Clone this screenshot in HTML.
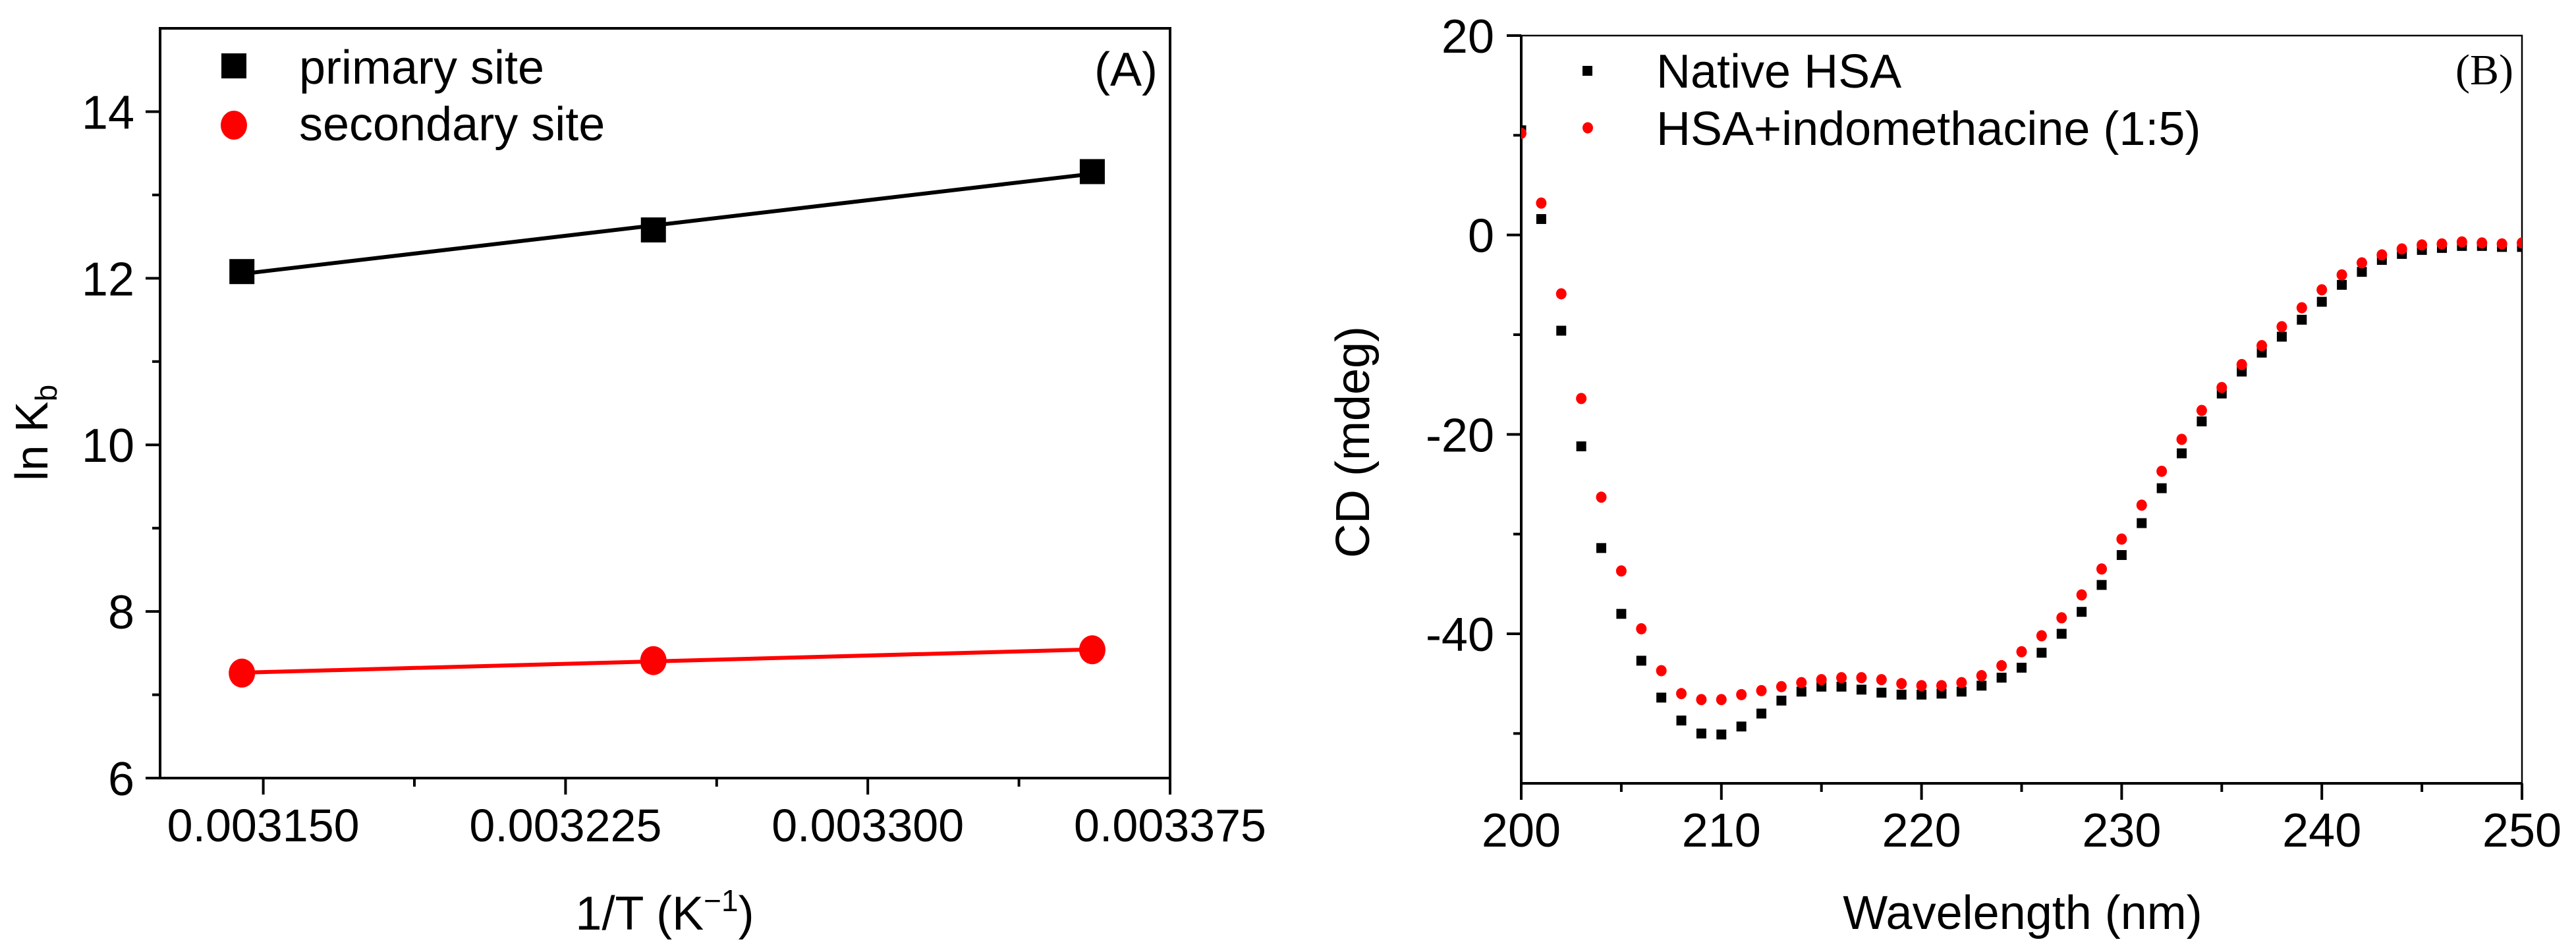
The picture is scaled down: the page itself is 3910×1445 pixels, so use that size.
<!DOCTYPE html>
<html><head><meta charset="utf-8">
<style>
html,body{margin:0;padding:0;background:#fff;}
svg{display:block;font-family:"Liberation Sans",sans-serif;}
</style></head>
<body>
<svg id="fig" width="3910" height="1445" viewBox="0 0 3910 1445" xmlns="http://www.w3.org/2000/svg">
<rect width="3910" height="1445" fill="#fff"/>
<defs>
<clipPath id="clipB"><rect x="2309" y="54" width="1519" height="1135"/></clipPath>
</defs>
<g id="panelA"></g>
<g id="panelB"></g>
</svg>
<script>
// Panel A data
const aX = [0.0031447, 0.0032468, 0.0033557];
const aPrimary = [12.08, 12.58, 13.28];
const aSecondary = [7.26, 7.41, 7.54];
const aXTicks = [0.003150, 0.003225, 0.003300, 0.003375];
const aXTickLabels = ["0.003150", "0.003225", "0.003300", "0.003375"];
const aYTicks = [6, 8, 10, 12, 14];
// Panel B data
const bWave = [200,201,202,203,204,205,206,207,208,209,210,211,212,213,214,215,216,217,218,219,220,221,222,223,224,225,226,227,228,229,230,231,232,233,234,235,236,237,238,239,240,241,242,243,244,245,246,247,248,249,250];
const bNative = [10.5,1.6,-9.6,-21.2,-31.4,-38.0,-42.7,-46.4,-48.7,-50.0,-50.1,-49.3,-48.0,-46.7,-45.8,-45.3,-45.3,-45.6,-45.9,-46.1,-46.1,-46.0,-45.8,-45.2,-44.4,-43.4,-41.9,-40.0,-37.8,-35.1,-32.1,-28.9,-25.4,-21.9,-18.7,-15.9,-13.7,-11.8,-10.2,-8.5,-6.7,-5.0,-3.7,-2.5,-1.9,-1.5,-1.3,-1.1,-1.1,-1.2,-1.2];
const bIndo = [10.2,3.2,-5.9,-16.4,-26.3,-33.7,-39.5,-43.7,-46.0,-46.6,-46.6,-46.1,-45.7,-45.3,-44.9,-44.6,-44.4,-44.4,-44.6,-45.0,-45.2,-45.2,-44.9,-44.2,-43.2,-41.8,-40.2,-38.4,-36.1,-33.5,-30.5,-27.1,-23.7,-20.5,-17.6,-15.3,-13.0,-11.1,-9.2,-7.3,-5.5,-4.0,-2.8,-2.0,-1.4,-1.0,-0.9,-0.7,-0.8,-0.9,-0.8];
const bXTicks = [200,210,220,230,240,250];
const bYTicks = [20,0,-20,-40];

const NS = "http://www.w3.org/2000/svg";
function mk(tag, attrs, parent){const e=document.createElementNS(NS,tag);for(const k in attrs)e.setAttribute(k,attrs[k]);parent.appendChild(e);return e;}

// ---------- Panel A ----------
const A = document.getElementById('panelA');
const aL=243,aR=1776,aT=43,aB=1181, aXmin=0.0031244, aXmax=0.003375, aYmin=6, aYmax=15;
const axA = v => aL + (v-aXmin)/(aXmax-aXmin)*(aR-aL);
const ayA = v => aB - (v-aYmin)/(aYmax-aYmin)*(aB-aT);
let e = mk('rect',{x:aL,y:aT,width:aR-aL,height:aB-aT,fill:'none',stroke:'#000','stroke-width':4},A);


aXTicks.forEach((t,i)=>{
  const x=axA(t);
  let l=mk('line',{x1:x,y1:aB,x2:x,y2:aB+25,stroke:'#000','stroke-width':4},A);
  
  
  if(i<aXTicks.length-1){const xm=axA(t+0.0000375);
    let m=mk('line',{x1:xm,y1:aB,x2:xm,y2:aB+13,stroke:'#000','stroke-width':4},A);
    
    }
  let tx=mk('text',{x:x,y:1277,'font-size':70,'text-anchor':'middle'},A);tx.textContent=aXTickLabels[i];
  
  
});
aYTicks.forEach(t=>{
  const y=ayA(t);
  let l=mk('line',{x1:aL-22,y1:y,x2:aL,y2:y,stroke:'#000','stroke-width':4},A);
  
  
  if(t<14){const ym=ayA(t+1);
    let m=mk('line',{x1:aL-12,y1:ym,x2:aL,y2:ym,stroke:'#000','stroke-width':4},A);
    
    }
  let tx=mk('text',{x:204,y:y+26,'font-size':72,'text-anchor':'end'},A);tx.textContent=String(t);
  
  
});
{const ym=ayA(15);}
// fit lines
function fit(xs,ys){const n=xs.length;let mx=0,my=0;for(let i=0;i<n;i++){mx+=xs[i];my+=ys[i];}mx/=n;my/=n;let sxy=0,sxx=0;for(let i=0;i<n;i++){sxy+=(xs[i]-mx)*(ys[i]-my);sxx+=(xs[i]-mx)**2;}const b=sxy/sxx;return [b,my-b*mx];}
[[aPrimary,'#000','fit-line-primary'],[aSecondary,'#f00','fit-line-secondary']].forEach(([ys,c,nm])=>{
  const [b,a0]=fit(aX,ys);const x0=aX[0],x1=aX[aX.length-1];
  let l=mk('line',{x1:axA(x0),y1:ayA(a0+b*x0),x2:axA(x1),y2:ayA(a0+b*x1),stroke:c,'stroke-width':6},A);
  
  
});
aX.forEach((x,i)=>{
  let s=mk('rect',{x:axA(x)-19,y:ayA(aPrimary[i])-19,width:38,height:38,fill:'#000'},A);
  
  
  let c=mk('ellipse',{cx:axA(x),cy:ayA(aSecondary[i]),rx:20,ry:22,fill:'#f00'},A);
  
  
});
// legend A
e=mk('rect',{x:336,y:81,width:38,height:38,fill:'#000'},A);


e=mk('text',{x:454,y:127,'font-size':72},A);e.textContent='primary site';


e=mk('ellipse',{cx:355,cy:190,rx:20,ry:22,fill:'#f00'},A);


e=mk('text',{x:454,y:213,'font-size':72},A);e.textContent='secondary site';


e=mk('text',{x:1757,y:130,'font-size':72,'text-anchor':'end'},A);e.textContent='(A)';


e=mk('text',{transform:'translate(72,730) rotate(-90)','font-size':70},A);
e.innerHTML='ln K<tspan font-size="46" dy="14">b</tspan>';


e=mk('text',{x:1009,y:1411,'font-size':72,'text-anchor':'middle'},A);
e.innerHTML='1/T (K<tspan font-size="46" dy="-28">−1</tspan><tspan dy="28">)</tspan>';



// ---------- Panel B ----------
const B = document.getElementById('panelB');
const bL=2309,bR=3828,bT=54,bB=1189,bXmin=200,bXmax=250,bYmin=-55,bYmax=20;
const axB=v=>bL+(v-bXmin)/(bXmax-bXmin)*(bR-bL);
const ayB=v=>bB-(v-bYmin)/(bYmax-bYmin)*(bB-bT);
e=mk('rect',{x:bL,y:bT,width:bR-bL,height:bB-bT,fill:'none',stroke:'#000','stroke-width':2.5},B);


e=mk('line',{x1:bL,y1:bT,x2:bL,y2:bB,stroke:'#000','stroke-width':4},B);


e=mk('line',{x1:bL,y1:bB,x2:bR,y2:bB,stroke:'#000','stroke-width':4},B);


bXTicks.forEach((t,i)=>{
  const x=axB(t);
  let l=mk('line',{x1:x,y1:bB,x2:x,y2:bB+25,stroke:'#000','stroke-width':4},B);
  
  
  if(i<bXTicks.length-1){const xm=axB(t+5);
    let m=mk('line',{x1:xm,y1:bB,x2:xm,y2:bB+13,stroke:'#000','stroke-width':4},B);
    
    }
  let tx=mk('text',{x:x,y:1285,'font-size':72,'text-anchor':'middle'},B);tx.textContent=String(t);
  
  
});
bYTicks.forEach(t=>{
  const y=ayB(t);
  let l=mk('line',{x1:bL-22,y1:y,x2:bL,y2:y,stroke:'#000','stroke-width':4},B);
  
  
  const ym=ayB(t-10);
  let m=mk('line',{x1:bL-12,y1:ym,x2:bL,y2:ym,stroke:'#000','stroke-width':4},B);
  
  
  let tx=mk('text',{x:2268,y:y+26,'font-size':72,'text-anchor':'end'},B);tx.textContent=String(t);
  
  
});
const gB=mk('g',{'clip-path':'url(#clipB)'},B);


bWave.forEach((w,i)=>{
  let s=mk('rect',{x:axB(w)-7.5,y:ayB(bNative[i])-7.5,width:15,height:15,fill:'#000'},gB);
  
  
});
bWave.forEach((w,i)=>{
  let c=mk('ellipse',{cx:axB(w),cy:ayB(bIndo[i]),rx:8,ry:8.5,fill:'#f00'},gB);
  
  
});
e=mk('rect',{x:2402,y:100,width:15,height:15,fill:'#000'},B);


e=mk('text',{x:2514,y:133,'font-size':72},B);e.textContent='Native HSA';


e=mk('ellipse',{cx:2410,cy:194,rx:8,ry:8.5,fill:'#f00'},B);


e=mk('text',{x:2514,y:220,'font-size':72},B);e.textContent='HSA+indomethacine (1:5)';


e=mk('text',{x:3815,y:128,'font-size':66,'text-anchor':'end','font-family':'Liberation Serif, serif'},B);e.textContent='(B)';


e=mk('text',{transform:'translate(2078,671) rotate(-90)','font-size':72,'text-anchor':'middle'},B);e.textContent='CD (mdeg)';


e=mk('text',{x:3070,y:1410,'font-size':72,'text-anchor':'middle'},B);e.textContent='Wavelength (nm)';


</script>
</body></html>
